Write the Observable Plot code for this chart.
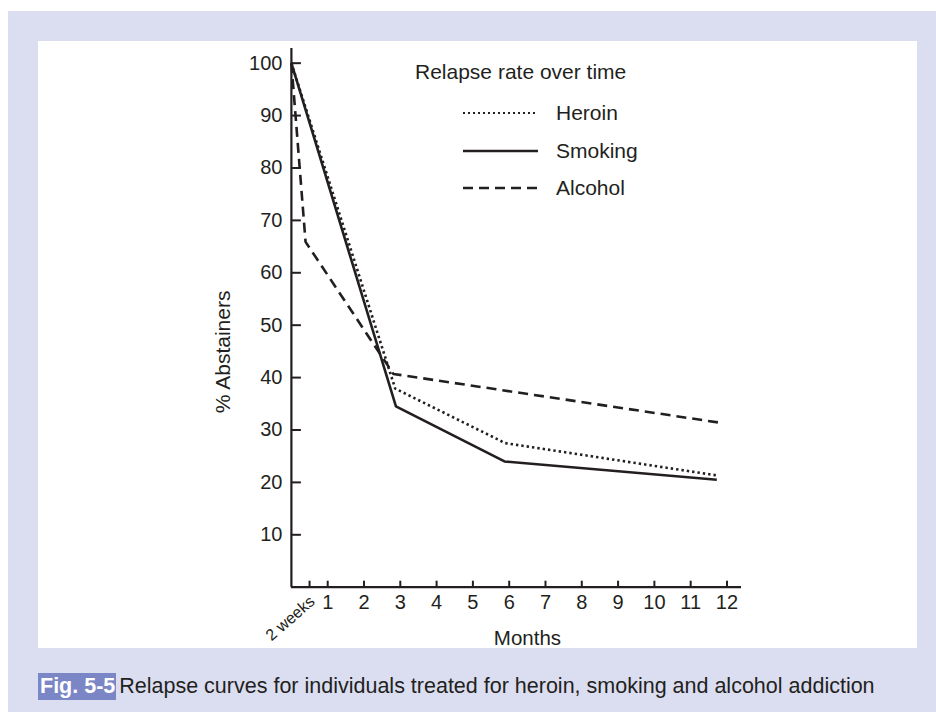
<!DOCTYPE html>
<html>
<head>
<meta charset="utf-8">
<script src="https://cdn.jsdelivr.net/npm/d3@7"></script>
<script src="https://cdn.jsdelivr.net/npm/@observablehq/plot@0.6"></script>
<style>
  html, body { margin: 0; padding: 0; background: #ffffff; }
  body { width: 936px; height: 712px; position: relative; overflow: hidden; font-family: "Liberation Sans", Arial, sans-serif; }
  #frame { position: absolute; left: 8px; top: 11px; width: 928px; height: 701px; background: #dbdef1; }
  #panel { position: absolute; left: 38px; top: 41px; width: 879px; height: 607px; background: #ffffff; }
  #chart { position: absolute; left: 38px; top: 41px; }
  #caption { position: absolute; left: 38px; top: 673px; font-size: 21.5px; color: #231f20; white-space: nowrap; line-height: 27px; }
  #caption .fig { display: inline-block; background: #7b86c6; color: #ffffff; font-weight: bold; padding: 0 1px 0 2px; margin-right: 3px; }
</style>
</head>
<body>
<div id="frame"></div>
<div id="panel"></div>
<div id="chart"></div>
<div id="caption"><span class="fig">Fig. 5-5</span>Relapse curves for individuals treated for heroin, smoking and alcohol addiction</div>
<script>
// ---- data ----
const heroinMonths  = [0, 2.86, 5.89, 11.75];
const heroinValues  = [100, 37.9, 27.5, 21.3];
const smokingMonths = [0, 2.88, 5.87, 11.72];
const smokingValues = [100, 34.5, 24.0, 20.5];
const alcoholMonths = [0, 0.39, 2.81, 11.8];
const alcoholValues = [100, 65.9, 40.7, 31.4];

const seriesNames = ["Heroin", "Smoking", "Alcohol"];
const yTicks = [10, 20, 30, 40, 50, 60, 70, 80, 90, 100];
const xTickLabels = [1, 2, 3, 4, 5, 6, 7, 8, 9, 10, 11, 12];
const xTickMarks = [0.5, 1, 2, 3, 4, 5, 6, 7, 8, 9, 10, 11, 12];
const twoWeeksLabel = ["2 weeks"];
const twoWeeksAt = [0.5];
const legendTitle = "Relapse rate over time";
const xLabel = "Months";
const yLabel = "% Abstainers";

// ---- build table ----
const toRows = (name, ms, vs) => ms.map((m, i) => ({series: name, month: m, value: vs[i]}));
const heroin = toRows("Heroin", heroinMonths, heroinValues);
const smoking = toRows("Smoking", smokingMonths, smokingValues);
const alcohol = toRows("Alcohol", alcoholMonths, alcoholValues);

const ink = "#231f20";
const styles = {
  Heroin:  {strokeWidth: 2.6, dash: "2.4,3", cap: "butt"},
  Smoking: {strokeWidth: 2.6, dash: null, cap: "butt"},
  Alcohol: {strokeWidth: 2.6, dash: "10,6", cap: "butt"}
};

const W = 879, H = 607;
const mL = 252.9, mR = 176, mT = 7, mB = 61.3;
const plotW = W - mL - mR, plotH = H - mT - mB;
const font = "Liberation Sans, Arial, sans-serif";

function legend() {
  const g = d3.create("svg:g").attr("font-family", font).attr("fill", ink).attr("text-anchor", "start");
  g.append("text").attr("x", 377).attr("y", 30.5).attr("dy", "0.35em")
    .attr("font-size", 21).text(legendTitle);
  const rows = [72, 110, 147];
  seriesNames.forEach((name, i) => {
    const s = styles[name];
    g.append("line").attr("x1", 425).attr("x2", 500).attr("y1", rows[i]).attr("y2", rows[i])
      .attr("stroke", ink).attr("stroke-width", name === "Heroin" ? 2 : s.strokeWidth)
      .attr("stroke-dasharray", name === "Heroin" ? "2,3" : s.dash);
    g.append("text").attr("x", 518).attr("y", rows[i]).attr("dy", "0.35em")
      .attr("font-size", 21).text(name);
  });
  return g.node();
}

const lineMark = (data, name) => Plot.line(data, {
  x: "month", y: "value", stroke: ink,
  strokeWidth: styles[name].strokeWidth,
  strokeDasharray: styles[name].dash,
  strokeLinecap: styles[name].cap,
  strokeLinejoin: "miter"
});

const chart = Plot.plot({
  width: W, height: H,
  marginLeft: mL, marginRight: mR, marginTop: mT, marginBottom: mB,
  style: {fontFamily: font, color: ink, background: "transparent", overflow: "visible"},
  x: {domain: [0, 12.4]},
  y: {domain: [0, 102.8]},
  marks: [
    Plot.axisY({ticks: yTicks, tickSize: 0, tickPadding: 9, fontSize: 20, label: null}),
    Plot.axisX({ticks: xTickLabels, tickSize: 0, tickPadding: 8, fontSize: 20, label: null}),
    Plot.tickY(yTicks, {y: d => d, insetRight: plotW - 10, stroke: ink, strokeWidth: 2}),
    Plot.tickX(xTickMarks, {x: d => d, insetTop: plotH - 6, stroke: ink, strokeWidth: 2}),
    Plot.ruleX([0], {stroke: ink, strokeWidth: 2.2}),
    Plot.ruleY([0], {stroke: ink, strokeWidth: 2.2}),
    Plot.text(twoWeeksLabel, {x: twoWeeksAt, y: [0], text: d => d, rotate: -41, textAnchor: "end",
      dx: 3, dy: 12, fontSize: 16, fill: ink}),
    Plot.text([xLabel], {frameAnchor: "bottom", text: d => d, dx: 11, dy: 58, fontSize: 20.5, fill: ink}),
    Plot.text([yLabel], {frameAnchor: "left", text: d => d, rotate: -90, textAnchor: "middle",
      dx: -68, dy: 34, fontSize: 21, fill: ink}),
    lineMark(alcohol, "Alcohol"),
    lineMark(heroin, "Heroin"),
    lineMark(smoking, "Smoking"),
    legend
  ]
});
document.getElementById("chart").appendChild(chart);
</script>
</body>
</html>
